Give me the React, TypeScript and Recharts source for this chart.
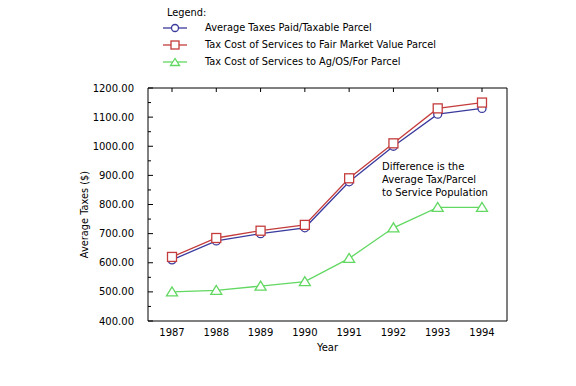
import React from "react";
import { LineChart, Line, XAxis, YAxis } from "recharts";

// values
const YEARS = ["1987", "1988", "1989", "1990", "1991", "1992", "1993", "1994"];
const AVG_TAX_PAID = [610, 675, 700, 720, 878, 1000, 1110, 1130];
const COST_FAIR_MARKET = [620, 685, 710, 730, 890, 1010, 1130, 1150];
const COST_AG_OS_FOR = [500, 505, 520, 535, 615, 720, 790, 790];
const Y_TICKS = [
  400, 450, 500, 550, 600, 650, 700, 750, 800, 850, 900, 950, 1000, 1050, 1100,
  1150, 1200,
];

const BLUE = "#3a3a9e";
const RED = "#c43c3c";
const GREEN = "#62d862";
const FONT = "'DejaVu Sans', sans-serif";

const data = YEARS.map((year, i) => ({
  year,
  avg: AVG_TAX_PAID[i],
  fair: COST_FAIR_MARKET[i],
  ag: COST_AG_OS_FOR[i],
}));

const LeftTick = (props: any) => {
  const { x, y, payload } = props;
  const major = payload.value % 100 === 0;
  return (
    <g>
      <line x1={x} x2={x + (major ? 5 : 3)} y1={y} y2={y} stroke="#000" />
      {major && (
        <text
          x={x - 14}
          y={y}
          dy={3.5}
          textAnchor="end"
          fontSize={10}
          fontFamily={FONT}
          fill="#000"
        >
          {payload.value.toFixed(2)}
        </text>
      )}
    </g>
  );
};

const RightTick = (props: any) => {
  const { x, y, payload } = props;
  const major = payload.value % 100 === 0;
  return <line x1={x} x2={x - (major ? 5 : 3)} y1={y} y2={y} stroke="#000" />;
};

const TopTick = (props: any) => {
  const { x, y } = props;
  return <line x1={x} x2={x} y1={y} y2={y + 4} stroke="#000" />;
};

const BottomTick = (props: any) => {
  const { x, y, payload } = props;
  return (
    <text
      x={x}
      y={y}
      dy={9}
      textAnchor="middle"
      fontSize={10}
      fontFamily={FONT}
      fill="#000"
    >
      {payload.value}
    </text>
  );
};

const SquareDot = (p: any) => (
  <rect
    key={`sq-${p.index}`}
    x={p.cx - 4.5}
    y={p.cy - 4.5}
    width={9}
    height={9}
    fill="#fff"
    stroke={RED}
    strokeWidth={1.3}
  />
);

const TriangleDot = (p: any) => (
  <polygon
    key={`tr-${p.index}`}
    points={`${p.cx},${p.cy - 5} ${p.cx - 5.5},${p.cy + 4} ${p.cx + 5.5},${p.cy + 4}`}
    fill="#fff"
    stroke={GREEN}
    strokeWidth={1.3}
  />
);

const legendItems = [
  { label: "Average Taxes Paid/Taxable Parcel", color: BLUE, shape: "circle" },
  { label: "Tax Cost of Services to Fair Market Value Parcel", color: RED, shape: "square" },
  { label: "Tax Cost of Services to Ag/OS/For Parcel", color: GREEN, shape: "triangle" },
];

const LegendIcon = ({ color, shape }: { color: string; shape: string }) => (
  <svg width={24} height={10} style={{ display: "block" }}>
    <line x1={0} x2={24} y1={5} y2={5} stroke={color} strokeWidth={1.3} />
    {shape === "circle" && <circle cx={12} cy={5} r={3.5} fill="#fff" stroke={color} strokeWidth={1.3} />}
    {shape === "square" && <rect x={8} y={1} width={8} height={8} fill="#fff" stroke={color} strokeWidth={1.3} />}
    {shape === "triangle" && <polygon points="12,1.5 7.5,8.5 16.5,8.5" fill="#fff" stroke={color} strokeWidth={1.3} />}
  </svg>
);

export default function App() {
  return (
    <div style={{ position: "absolute", left: 0, top: 0, width: 576, height: 386, background: "#fff" }}>
      <div style={{ position: "absolute", left: 163, top: 7, fontFamily: FONT, fontSize: 9.8, color: "#000" }}>
        <div style={{ lineHeight: "12px", marginLeft: 4 }}>Legend:</div>
        {legendItems.map((it) => (
          <div key={it.label} style={{ display: "flex", alignItems: "center", height: 17 }}>
            <LegendIcon color={it.color} shape={it.shape} />
            <span style={{ marginLeft: 18 }}>{it.label}</span>
          </div>
        ))}
      </div>
      <div
        style={{
          position: "absolute",
          left: 382,
          top: 160,
          fontFamily: FONT,
          fontSize: 10,
          lineHeight: "13px",
          color: "#000",
        }}
      >
        Difference is the
        <br />
        Average Tax/Parcel
        <br />
        to Service Population
      </div>
      <LineChart
        width={576}
        height={386}
        data={data}
        margin={{ top: 87, right: 68, bottom: 30, left: 70 }}
      >
        <XAxis
          dataKey="year"
          xAxisId={0}
          height={35}
          interval={0}
          padding={{ left: 24, right: 25 }}
          axisLine={{ stroke: "#000" }}
          tickLine={false}
          tickSize={0}
          tickMargin={6}
          tick={<BottomTick />}
          label={{
            content: ({ viewBox }: any) => (
              <text
                x={viewBox.x + viewBox.width / 2}
                y={viewBox.y + 30}
                textAnchor="middle"
                fontSize={10}
                fontFamily={FONT}
                fill="#000"
              >
                Year
              </text>
            ),
          }}
        />
        <XAxis
          dataKey="year"
          xAxisId="top"
          orientation="top"
          height={1}
          interval={0}
          padding={{ left: 24, right: 25 }}
          axisLine={{ stroke: "#000" }}
          tickLine={false}
          tickSize={0}
          tickMargin={0}
          tick={<TopTick />}
        />
        <YAxis
          yAxisId={0}
          width={78}
          domain={[400, 1200]}
          ticks={Y_TICKS}
          interval={0}
          axisLine={{ stroke: "#000" }}
          tickLine={false}
          tickSize={0}
          tickMargin={0}
          tick={<LeftTick />}
          label={{
            content: ({ viewBox }: any) => (
              <text
                x={85}
                y={viewBox.y + viewBox.height / 2 + 10}
                transform={`rotate(-90 85 ${viewBox.y + viewBox.height / 2 + 10})`}
                textAnchor="middle"
                dy={3}
                fontSize={9.8}
                fontFamily={FONT}
                fill="#000"
              >
                Average Taxes ($)
              </text>
            ),
          }}
        />
        <YAxis
          yAxisId="right"
          orientation="right"
          width={1}
          domain={[400, 1200]}
          ticks={Y_TICKS}
          interval={0}
          axisLine={{ stroke: "#000" }}
          tickLine={false}
          tickSize={0}
          tickMargin={0}
          tick={<RightTick />}
        />
        <Line
          dataKey="avg"
          stroke={BLUE}
          strokeWidth={1.3}
          dot={{ r: 4, fill: "#fff", stroke: BLUE, strokeWidth: 1.3 }}
          isAnimationActive={false}
        />
        <Line
          dataKey="fair"
          stroke={RED}
          strokeWidth={1.3}
          dot={SquareDot}
          isAnimationActive={false}
        />
        <Line
          dataKey="ag"
          stroke={GREEN}
          strokeWidth={1.3}
          dot={TriangleDot}
          isAnimationActive={false}
        />
      </LineChart>
    </div>
  );
}
